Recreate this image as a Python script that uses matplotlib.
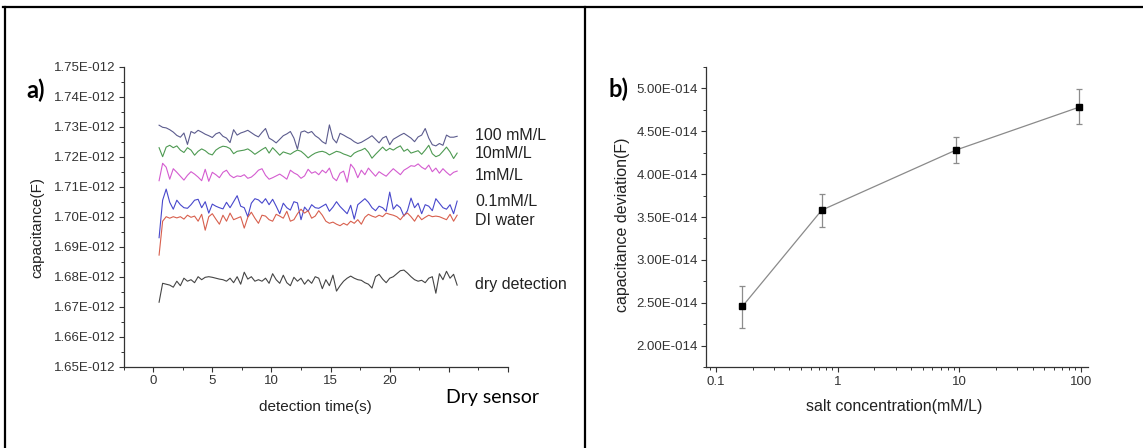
import numpy as np
import matplotlib
matplotlib.use("Agg")
import matplotlib.pyplot as plt
from matplotlib.lines import Line2D
from matplotlib.ticker import FuncFormatter, MultipleLocator, LogLocator, NullFormatter

plt.rcParams['font.family'] = ['Liberation Sans', 'DejaVu Sans']

# ---- panel a data (capacitance in pF) ----
labels_a = ['100 mM/L', '10mM/L', '1mM/L', '0.1mM/L', 'DI water', 'dry detection']
colors_a = ['#5c5c8e', '#4e9a52', '#d45cd0', '#4848cc', '#d8604e', '#454545']

c_100mM = [1.7305, 1.7298, 1.7296, 1.7290, 1.7282, 1.7271, 1.7265, 1.7279, 1.7241, 1.7284,
           1.7278, 1.7288, 1.7282, 1.7275, 1.7270, 1.7264, 1.7276, 1.7281, 1.7268, 1.7262,
           1.7247, 1.7290, 1.7272, 1.7279, 1.7283, 1.7288, 1.7280, 1.7272, 1.7266, 1.7281,
           1.7294, 1.7262, 1.7255, 1.7246, 1.7258, 1.7270, 1.7276, 1.7284, 1.7262, 1.7225,
           1.7282, 1.7286, 1.7279, 1.7284, 1.7270, 1.7262, 1.7250, 1.7243, 1.7306, 1.7260,
           1.7246, 1.7278, 1.7272, 1.7265, 1.7259, 1.7250, 1.7244, 1.7248, 1.7255, 1.7262,
           1.7270, 1.7258, 1.7246, 1.7262, 1.7268, 1.7240, 1.7258, 1.7265, 1.7272, 1.7278,
           1.7270, 1.7262, 1.7250, 1.7266, 1.7272, 1.7294, 1.7262, 1.7240, 1.7236, 1.7244,
           1.7238, 1.7272, 1.7265, 1.7265, 1.7268]
c_10mM = [1.7230, 1.7200, 1.7232, 1.7238, 1.7230, 1.7236, 1.7222, 1.7214, 1.7230, 1.7222,
          1.7205, 1.7218, 1.7226, 1.7220, 1.7210, 1.7206, 1.7222, 1.7230, 1.7235, 1.7233,
          1.7227, 1.7210, 1.7218, 1.7220, 1.7222, 1.7226, 1.7218, 1.7208, 1.7216, 1.7224,
          1.7231, 1.7212, 1.7230, 1.7218, 1.7205, 1.7216, 1.7212, 1.7208, 1.7216, 1.7222,
          1.7218, 1.7208, 1.7196, 1.7205, 1.7212, 1.7216, 1.7218, 1.7214, 1.7206, 1.7212,
          1.7218, 1.7215, 1.7209, 1.7205, 1.7200, 1.7212, 1.7218, 1.7222, 1.7228, 1.7215,
          1.7195, 1.7208, 1.7220, 1.7232, 1.7220, 1.7228, 1.7222, 1.7230, 1.7236, 1.7218,
          1.7225, 1.7212, 1.7216, 1.7220, 1.7208, 1.7222, 1.7238, 1.7210, 1.7200, 1.7205,
          1.7218, 1.7232, 1.7216, 1.7194, 1.7212]
c_1mM = [1.7120, 1.7178, 1.7165, 1.7125, 1.7160, 1.7148, 1.7135, 1.7122, 1.7138, 1.7150,
         1.7142, 1.7132, 1.7120, 1.7158, 1.7118, 1.7148, 1.7140, 1.7130, 1.7148, 1.7155,
         1.7138, 1.7130, 1.7136, 1.7134, 1.7140, 1.7128, 1.7132, 1.7142, 1.7155, 1.7160,
         1.7138, 1.7125, 1.7130, 1.7136, 1.7142, 1.7134, 1.7125, 1.7155, 1.7146, 1.7140,
         1.7128, 1.7136, 1.7158, 1.7145, 1.7150, 1.7140, 1.7155, 1.7146, 1.7162, 1.7130,
         1.7120, 1.7145, 1.7152, 1.7115, 1.7175, 1.7160, 1.7130, 1.7155, 1.7140, 1.7162,
         1.7148, 1.7135, 1.7150, 1.7142, 1.7135, 1.7148, 1.7160, 1.7150, 1.7140, 1.7155,
         1.7162, 1.7170, 1.7168, 1.7176, 1.7165, 1.7158, 1.7172, 1.7150, 1.7162, 1.7145,
         1.7160, 1.7148, 1.7138, 1.7148, 1.7152]
c_01mM = [1.6930, 1.7055, 1.7092, 1.7048, 1.7025, 1.7055, 1.7040, 1.7030, 1.7028, 1.7040,
          1.7055, 1.7058, 1.7030, 1.7050, 1.7012, 1.7042, 1.7035, 1.7030, 1.7026, 1.7048,
          1.7030, 1.7050, 1.7070, 1.7035, 1.7030, 1.7000, 1.7045, 1.7060, 1.7056, 1.7045,
          1.7060, 1.7040, 1.7058, 1.7035, 1.7010, 1.7045, 1.7030, 1.7022, 1.7050, 1.7046,
          1.6990, 1.7032, 1.7018, 1.7040, 1.7030, 1.7028, 1.7035, 1.7042, 1.7018, 1.7032,
          1.7050, 1.7034, 1.7022, 1.7010, 1.7038, 1.6992, 1.7040, 1.7050, 1.7060, 1.7048,
          1.7030, 1.7020, 1.7035, 1.7030, 1.7018, 1.7082, 1.7025, 1.7040, 1.7030, 1.7002,
          1.7020, 1.7062, 1.7030, 1.7045, 1.7010, 1.7040, 1.7035, 1.7020, 1.7060, 1.7045,
          1.7030, 1.7025, 1.7040, 1.7010, 1.7052]
c_di = [1.6872, 1.6985, 1.7000, 1.6995, 1.7000, 1.6996, 1.7000, 1.6992, 1.7005, 1.6998,
        1.7002, 1.6985, 1.7008, 1.6955, 1.7000, 1.7010, 1.6992, 1.6975, 1.7005, 1.6985,
        1.7012, 1.6990, 1.6995, 1.7000, 1.6962, 1.6998, 1.7015, 1.6995, 1.6978, 1.7005,
        1.7002, 1.6990, 1.6985, 1.7008, 1.7002, 1.6995, 1.7018, 1.6985, 1.6990, 1.7010,
        1.7025, 1.7012, 1.7020, 1.6995, 1.7002, 1.7020, 1.7005, 1.6985, 1.6978, 1.6982,
        1.6975, 1.6970, 1.6978, 1.6972, 1.6985, 1.6978, 1.6990, 1.6975, 1.6998, 1.7008,
        1.7002, 1.6998, 1.7005, 1.7000, 1.7012, 1.7008, 1.7005, 1.7000, 1.6990, 1.7005,
        1.7012, 1.7000, 1.6985, 1.7005, 1.6990, 1.6998, 1.7005, 1.7000, 1.7002, 1.7000,
        1.6995, 1.6990, 1.7008, 1.6985, 1.7005]
c_dry = [1.6715, 1.6778, 1.6775, 1.6772, 1.6765, 1.6785, 1.6770, 1.6795, 1.6785, 1.6790,
         1.6780, 1.6800, 1.6790, 1.6798, 1.6800, 1.6798, 1.6795, 1.6792, 1.6790, 1.6785,
         1.6795, 1.6780, 1.6800, 1.6775, 1.6815, 1.6792, 1.6800, 1.6785, 1.6790, 1.6785,
         1.6795, 1.6778, 1.6810, 1.6790, 1.6778, 1.6805, 1.6780, 1.6770, 1.6798, 1.6785,
         1.6795, 1.6775, 1.6790, 1.6778, 1.6800, 1.6795, 1.6760, 1.6790, 1.6770, 1.6805,
         1.6752, 1.6770, 1.6785, 1.6795, 1.6802, 1.6795, 1.6790, 1.6788, 1.6780, 1.6775,
         1.6762, 1.6800, 1.6808, 1.6792, 1.6780, 1.6795, 1.6800, 1.6810, 1.6820, 1.6822,
         1.6812, 1.6800, 1.6790, 1.6785, 1.6788, 1.6780, 1.6795, 1.6800, 1.6745, 1.6810,
         1.6790, 1.6818, 1.6795, 1.6808, 1.6772]
series_a = [c_100mM, c_10mM, c_1mM, c_01mM, c_di, c_dry]
t_start, t_end = 0.5, 25.7
label_y_a = [1.7272, 1.7212, 1.7139, 1.7049, 1.6989, 1.6775]

# ---- panel b data ----
salt_conc = [0.165, 0.74, 9.4, 97]
cap_dev = [2.46, 3.58, 4.28, 4.78]          # x 1e-14 F
err_lo = [0.25, 0.20, 0.15, 0.20]
err_hi = [0.24, 0.19, 0.15, 0.21]


def sci3(v, pos):
    m, e = ('%.2E' % v).split('E')
    return '%sE%s' % (m, format(int(e), '+04d').replace('+', ''))


W, H = 1143, 448
fig = plt.figure(figsize=(W / 100, H / 100), dpi=100)

tick_col = '#333333'
txt_col = '#222222'

# panel a
ax = fig.add_axes([123.6 / W, 1 - 366.7 / H, 384.4 / W, 300 / H])
for vals, col in zip(series_a, colors_a):
    t = np.linspace(t_start, t_end, len(vals))
    ax.plot(t, np.array(vals) * 1e-12, color=col, lw=0.8)
ax.set_xlim(-2.5, 30)
ax.set_ylim(1.65e-12, 1.75e-12)
ax.xaxis.set_major_locator(MultipleLocator(5))
ax.xaxis.set_minor_locator(MultipleLocator(2.5))
ax.xaxis.set_major_formatter(FuncFormatter(lambda v, p: '%d' % v if 0 <= v <= 20 else ''))
ax.yaxis.set_major_locator(MultipleLocator(0.01e-12))
ax.yaxis.set_minor_locator(MultipleLocator(0.005e-12))
ax.yaxis.set_major_formatter(FuncFormatter(sci3))
ax.set_xlabel('detection time(s)', fontsize=11, color=txt_col)
ax.set_ylabel('capacitance(F)', fontsize=11, color=txt_col)
ax.xaxis.set_label_coords(0.5, -0.11)
ax.yaxis.set_label_coords(-0.205, 0.465)
for lab, yv in zip(labels_a, label_y_a):
    ax.text(27.2, yv * 1e-12, lab, fontsize=11.5, color=txt_col, va='center', ha='left', clip_on=False)
ax.text(0.839, -0.101, 'Dry sensor', transform=ax.transAxes, fontsize=14, family=['Lato', 'DejaVu Sans'],
        color='black', va='center', ha='left')

# panel b
bx = fig.add_axes([706 / W, 1 - 367.3 / H, 381.5 / W, 300.6 / H])
bx.errorbar(salt_conc, np.array(cap_dev) * 1e-14,
            yerr=[np.array(err_lo) * 1e-14, np.array(err_hi) * 1e-14],
            fmt='none', ecolor='#8c8c8c', elinewidth=0.9, capsize=2.5, capthick=0.9)
bx.plot(salt_conc, np.array(cap_dev) * 1e-14, color='#8a8a8a', lw=0.9, zorder=3)
bx.plot(salt_conc, np.array(cap_dev) * 1e-14, 's', color='black', ms=4.5, zorder=4)
bx.set_xscale('log')
bx.set_xlim(0.0828, 113)
bx.set_ylim(1.75e-14, 5.25e-14)
bx.xaxis.set_major_locator(LogLocator(base=10))
bx.xaxis.set_minor_locator(LogLocator(base=10, subs=np.arange(2, 10)))
bx.xaxis.set_minor_formatter(NullFormatter())
bx.xaxis.set_major_formatter(FuncFormatter(lambda v, p: ('%g' % v)))
bx.yaxis.set_major_locator(MultipleLocator(0.5e-14))
bx.yaxis.set_minor_locator(MultipleLocator(0.25e-14))
bx.yaxis.set_major_formatter(FuncFormatter(sci3))
bx.set_xlabel('salt concentration(mM/L)', fontsize=11.5, color=txt_col)
bx.set_ylabel('capacitance deviation(F)', fontsize=11.5, color=txt_col)
bx.xaxis.set_label_coords(0.493, -0.105)
bx.yaxis.set_label_coords(-0.2, 0.475)

for a in (ax, bx):
    a.spines['top'].set_visible(False)
    a.spines['right'].set_visible(False)
    for s in ('left', 'bottom'):
        a.spines[s].set_color(tick_col)
        a.spines[s].set_linewidth(0.9)
    a.tick_params(which='major', direction='out', length=3.5, width=0.8, color=tick_col,
                  labelsize=9.5, labelcolor=tick_col, pad=2.5)
    a.tick_params(which='minor', direction='out', length=2, width=0.7, color=tick_col)

# panel letters
fig.text(26 / W, 1 - 90 / H, 'a)', fontsize=17, fontweight='bold', family=['Lato', 'DejaVu Sans'],
         va='center', ha='left')
fig.text(608 / W, 1 - 89 / H, 'b)', fontsize=17, fontweight='bold', family=['Lato', 'DejaVu Sans'],
         va='center', ha='left')

# frame lines
lw_frame = 1.6
fig.add_artist(Line2D([3 / W, 1], [1 - 7.5 / H, 1 - 7.5 / H], transform=fig.transFigure, color='black', lw=lw_frame))
fig.add_artist(Line2D([4.5 / W, 4.5 / W], [0, 1 - 7.5 / H], transform=fig.transFigure, color='black', lw=lw_frame))
fig.add_artist(Line2D([585 / W, 585 / W], [0, 1 - 7.5 / H], transform=fig.transFigure, color='black', lw=lw_frame))

fig.savefig('out.png', dpi=100)
